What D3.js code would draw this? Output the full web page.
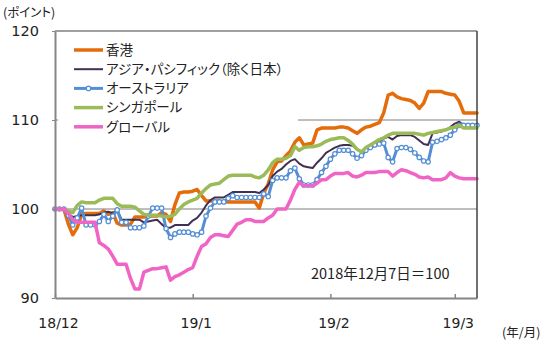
<!DOCTYPE html>
<html>
<head>
<meta charset="utf-8">
<script src="https://cdn.jsdelivr.net/npm/d3@7"></script>
<style>
  html, body { margin: 0; padding: 0; background: #fff; }
  svg text { font-family: "Noto Sans CJK JP", "Noto Sans", sans-serif; fill: #222; }
  .num { font-family: "DejaVu Sans", sans-serif; }
  .jp { font-feature-settings: "palt"; }
</style>
</head>
<body>
<div id="chart"></div>
<script>
'use strict';

// daily index values, 2018-12-07 = 100 (one value per calendar day)
const startDate = new Date(2018, 11, 7);
const endDate = new Date(2019, 2, 12);

const hongKong = [
  100, 100, 100, 98.3, 97.1, 97.9, 99.4, 99.5, 99.5, 99.5,
  99.5, 99.8, 99.4, 99.6, 98.4, 98.2, 98.2, 98.3, 99.1, 99.1,
  99.1, 99.2, 99.2, 99.2, 99.6, 99.4, 98.6, 100.5, 101.8, 101.9,
  101.9, 102, 102.2, 101.5, 100.9, 100.9, 100.9, 100.9, 100.8, 100.8,
  100.8, 100.8, 100.8, 100.8, 100.8, 100.8, 100.1, 101.8, 102.8, 104.4,
  105.3, 105.4, 106, 106.5, 107.5, 108, 107.2, 107.3, 107.4, 108.9,
  109.1, 109.1, 109.1, 109.1, 109.2, 109.2, 109.1, 108.8, 108.5, 108.9,
  109.2, 109.3, 109.5, 109.7, 110.8, 112.8, 113, 112.6, 112.4, 112.3,
  112.2, 111.9, 111.3, 111.9, 113.2, 113.2, 113.2, 113.2, 113, 112.9,
  112.8, 112.1, 110.8, 110.8, 110.8, 110.8
];

const asiaPacific = [
  100, 100, 100, 99.5, 99.1, 99.2, 99.3, 99.3, 99.3, 99.3,
  99.4, 99.6, 99.7, 99.5, 99.9, 98.8, 98.8, 98.8, 98.8, 98.8,
  98.5, 98.6, 98.7, 98.8, 98.3, 97.9, 97.9, 98.2, 98.2, 98.2,
  98.2, 98.7, 99, 99.6, 100.4, 101, 101.3, 101.3, 101.3, 101.6,
  101.9, 101.9, 101.9, 101.9, 101.9, 101.9, 101.8, 102.2, 102.7, 103.7,
  104.2, 104.5, 105, 105.4, 105.6, 105.1, 104.8, 104.7, 104.6, 105.2,
  105.7, 106.3, 106.6, 106.9, 107.1, 107.2, 107.2, 107.1, 106.7, 106.4,
  106.9, 107.2, 107.4, 107.6, 107.9, 108.1, 107.8, 108.2, 108.3, 108.3,
  108.3, 108.1, 107.7, 107.3, 107.2, 108.5, 108.6, 108.7, 108.9, 109.2,
  109.6, 109.8, 109.4, 109.4, 109.4, 109.4
];

const australia = [
  100, 100, 100, 99.3, 98.2, 99, 100.1, 98.2, 98.2, 98.2,
  98.6, 99.4, 98.6, 99.2, 99.9, 98.5, 98.5, 97.9, 97.9, 97.9,
  98.1, 99.2, 100.1, 100.1, 100.1, 97.8, 96.8, 97.2, 97.4, 97.4,
  97.4, 97.2, 97.1, 97.4, 99.2, 100.1, 100.8, 100.8, 100.8, 101.2,
  101.5, 101.3, 101.3, 101.3, 101.3, 101.3, 101.3, 101.7, 101.4, 103.2,
  103.5, 103.5, 103.5, 104.3, 104.6, 103.4, 102.7, 102.7, 102.7, 103.3,
  104.1, 104.8, 105.6, 106.2, 106.6, 106.6, 106.6, 106.2, 105.7, 106,
  106.6, 106.9, 107.2, 107.3, 107.4, 105.8, 105.3, 106.8, 106.9, 106.9,
  106.7, 106.3, 105.8, 105.4, 105.3, 107.5, 107.6, 107.8, 108, 108.3,
  108.9, 109.4, 109.4, 109.4, 109.4, 109.4
];

const singapore = [
  100, 100, 100, 99.8, 99.6, 100.4, 100.8, 100.7, 100.7, 100.7,
  101, 101.2, 101.2, 101.2, 100.6, 100.3, 100.3, 100.3, 100.2, 99.8,
  99.4, 99.3, 99.3, 99.3, 99.2, 99.1, 99.2, 99.4, 100, 100.5,
  100.8, 101, 101.2, 101.8, 102.3, 102.7, 102.8, 102.9, 103.3, 103.7,
  103.8, 103.8, 103.8, 103.8, 103.8, 103.6, 103.5, 103.8, 104.4, 105.2,
  105.6, 105.6, 105.7, 106, 107, 106.6, 106.9, 107, 107, 107.1,
  107.3, 107.6, 107.8, 107.9, 108, 108, 107.7, 107.3, 106.7, 106.4,
  106.9, 107.2, 107.5, 107.8, 108, 108.3, 108.5, 108.5, 108.5, 108.5,
  108.5, 108.5, 108.4, 108.3, 108.5, 108.6, 108.7, 108.8, 108.9, 109.1,
  109.2, 109.4, 109.1, 109.1, 109.1, 109.1
];

const globalIdx = [
  100, 100, 100, 99.5, 98.8, 98.5, 98.5, 98.5, 98.5, 98.5,
  96.2, 95.9, 95.5, 94.7, 93.8, 93.8, 93.8, 92.2, 91, 91,
  92.9, 93.1, 93.3, 93.3, 93.4, 93.5, 92, 92.4, 92.6, 92.9,
  93.2, 93.4, 94.7, 95.8, 96.1, 96.8, 97.1, 97.1, 97, 96.9,
  97.6, 98.3, 98.5, 98.8, 98.8, 98.6, 98.6, 98.6, 99, 99.3,
  100, 100, 100, 101, 102.2, 103, 102.6, 102.6, 102.6, 102.9,
  103.3, 103.3, 103.7, 104, 104, 104, 104.1, 103.7, 103.6, 103.8,
  104.1, 104.1, 104.1, 104.2, 104.2, 104.2, 103.7, 104.1, 104.4, 104.3,
  104.1, 103.9, 103.6, 103.5, 103.6, 103.3, 103.3, 103.3, 103.5, 104.1,
  103.7, 103.5, 103.4, 103.4, 103.4, 103.4
];

const seriesNames = ['香港', 'アジア・パシフィック（除く日本）', 'オーストラリア', 'シンガポール', 'グローバル'];
const seriesValues = [hongKong, asiaPacific, australia, singapore, globalIdx];
const seriesColors = ['#E46C0A', '#403152', '#558ED5', '#9BBB59', '#F064C6'];
const seriesWidths = [3.5, 2, 3, 3.5, 3.5];

const yTicks = [90, 100, 110, 120];
const xTickDates = [new Date(2018, 11, 7), new Date(2019, 0, 7), new Date(2019, 1, 7), new Date(2019, 2, 7)];
const xTickLabels = ['18/12', '19/1', '19/2', '19/3'];

const W = 550, H = 342;
const plot = { left: 55, right: 477, top: 31, bottom: 298 };

const svg = d3.select('#chart').append('svg')
  .attr('width', W).attr('height', H);

const x = d3.scaleTime().domain([startDate, endDate]).range([plot.left, plot.right]);
const y = d3.scaleLinear().domain([90, 120]).range([plot.bottom, plot.top]);

const dayOf = (i) => d3.timeDay.offset(startDate, i);

// gridlines at 100 / 110 (top of frame is the 120 line)
svg.append('g').selectAll('line')
  .data([100, 110, 120])
  .enter().append('line')
  .attr('x1', plot.left).attr('x2', plot.right)
  .attr('y1', (d) => y(d)).attr('y2', (d) => y(d))
  .attr('stroke', (d) => d === 120 ? '#404040' : '#7f7f7f')
  .attr('stroke-width', 1);

// series lines, drawn in legend order
const line = d3.line()
  .x((d, i) => x(dayOf(i)))
  .y((d) => y(d));

const $series = svg.append('g');
seriesValues.forEach((vals, k) => {
  $series.append('path')
    .datum(vals)
    .attr('d', line)
    .attr('fill', 'none')
    .attr('stroke', seriesColors[k])
    .attr('stroke-width', seriesWidths[k])
    .attr('stroke-linejoin', 'round')
    .attr('stroke-linecap', 'round');
  if (k === 2) {
    $series.append('g').selectAll('circle')
      .data(vals)
      .enter().append('circle')
      .attr('cx', (d, i) => x(dayOf(i)))
      .attr('cy', (d) => y(d))
      .attr('r', 2.2)
      .attr('fill', '#fff')
      .attr('stroke', seriesColors[k])
      .attr('stroke-width', 1.2);
  }
});

// legend with white box
const legend = svg.append('g');
legend.append('rect')
  .attr('x', plot.left + 3).attr('y', 37)
  .attr('width', 298 - plot.left - 3).attr('height', 100)
  .attr('fill', '#fff');
seriesNames.forEach((name, k) => {
  const ly = 50 + k * 19.2;
  legend.append('line')
    .attr('x1', 74).attr('x2', 103)
    .attr('y1', ly).attr('y2', ly)
    .attr('stroke', seriesColors[k])
    .attr('stroke-width', seriesWidths[k]);
  if (k === 2) {
    legend.append('circle')
      .attr('cx', 88.5).attr('cy', ly).attr('r', 2.2)
      .attr('fill', '#fff').attr('stroke', seriesColors[k]).attr('stroke-width', 1.2);
  }
  legend.append('text')
    .attr('class', 'jp')
    .attr('x', 106).attr('y', ly)
    .attr('dy', '0.35em')
    .style('font-size', '13.5px')
    .text(name);
});

// axes
const xAxis = d3.axisBottom(x)
  .tickValues(xTickDates)
  .tickFormat((d, i) => xTickLabels[i])
  .tickSizeInner(-4).tickSizeOuter(0).tickPadding(20);
const $xAxis = svg.append('g')
  .attr('transform', `translate(0, ${plot.bottom})`)
  .call(xAxis);
$xAxis.select('.domain').attr('stroke', '#868686').attr('stroke-width', 2);
$xAxis.selectAll('.tick line').attr('stroke', '#868686').attr('stroke-width', 1.5);
$xAxis.selectAll('.tick text')
  .attr('class', 'num')
  .attr('dx', 3)
  .style('font-size', '14px').attr('fill', '#222');

const yAxis = d3.axisLeft(y)
  .tickValues(yTicks)
  .tickSizeInner(3).tickSizeOuter(0).tickPadding(13);
const $yAxis = svg.append('g')
  .attr('transform', `translate(${plot.left}, 0)`)
  .call(yAxis);
$yAxis.select('.domain').attr('stroke', '#868686').attr('stroke-width', 2);
$yAxis.selectAll('.tick line').attr('stroke', '#868686');
$yAxis.selectAll('.tick text')
  .attr('class', 'num')
  .style('font-size', '14.5px').attr('fill', '#222');

// right edge of the frame
svg.append('line')
  .attr('x1', plot.right).attr('x2', plot.right)
  .attr('y1', plot.top).attr('y2', plot.bottom)
  .attr('stroke', '#404040').attr('stroke-width', 1.5);

// titles and note
svg.append('text').attr('class', 'jp')
  .attr('x', 3).attr('y', 17)
  .style('font-size', '12.5px')
  .text('(ポイント)');

svg.append('text').attr('class', 'jp')
  .attr('x', 502).attr('y', 337)
  .style('font-size', '12.5px')
  .text('(年/月)');

svg.append('text')
  .attr('x', 311).attr('y', 279)
  .style('font-size', '14.5px')
  .text('2018年12月7日＝100');
</script>
</body>
</html>
